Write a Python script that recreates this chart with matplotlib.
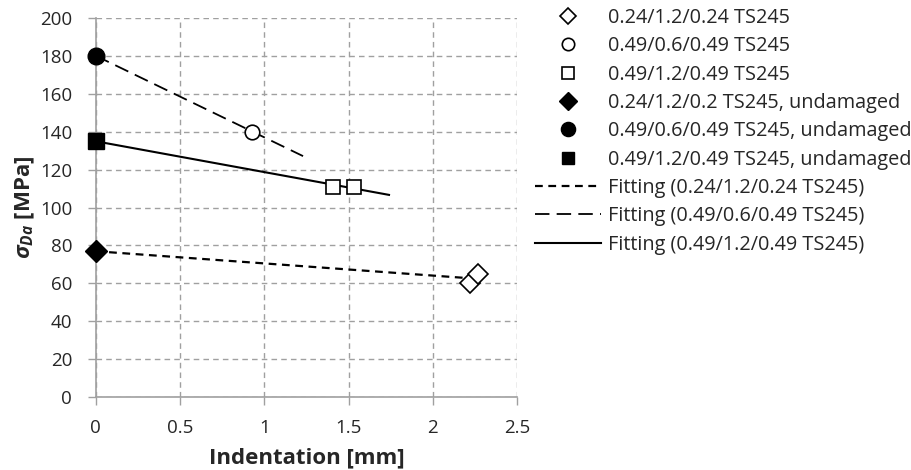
import numpy as np
import matplotlib
matplotlib.use("Agg")
import matplotlib.pyplot as plt

plt.rcParams['font.family'] = ['Open Sans', 'DejaVu Sans']
plt.rcParams['mathtext.fontset'] = 'custom'
plt.rcParams['mathtext.it'] = 'Open Sans:italic:bold'
plt.rcParams['mathtext.rm'] = 'Open Sans:bold'
plt.rcParams['mathtext.bf'] = 'Open Sans:bold'

# Data
diamond_x = [2.22, 2.27]
diamond_y = [60, 65]
circle_x = [0.93]
circle_y = [140]
square_x = [1.41, 1.53]
square_y = [111, 111]
undamaged_diamond = (0, 77)
undamaged_circle = (0, 180)
undamaged_square = (0, 135)
fit_end_diamond = 2.27
fit_end_circle = 1.23
fit_end_square = 1.74

labels = ["0.24/1.2/0.24 TS245", "0.49/0.6/0.49 TS245", "0.49/1.2/0.49 TS245",
          "0.24/1.2/0.2 TS245, undamaged", "0.49/0.6/0.49 TS245, undamaged",
          "0.49/1.2/0.49 TS245, undamaged",
          "Fitting (0.24/1.2/0.24 TS245)", "Fitting (0.49/0.6/0.49 TS245)",
          "Fitting (0.49/1.2/0.49 TS245)"]

fig = plt.figure(figsize=(9.12, 4.70), dpi=100)
ax = fig.add_axes([0.105, 0.155, 0.462, 0.807])

gray = '#a0a0a0'
txt = '#262626'
fs = 13.5

def fit(xs, ys, x0, x1):
    p = np.polyfit(xs, ys, 1)
    xx = np.array([x0, x1])
    return xx, np.polyval(p, xx)

h = []
h.append(ax.plot(diamond_x, diamond_y, ls='none', marker='D', ms=10, mfc='white', mec='black', mew=1.2, label=labels[0], zorder=5)[0])
h.append(ax.plot(circle_x, circle_y, ls='none', marker='o', ms=10.5, mfc='white', mec='black', mew=1.2, label=labels[1], zorder=5)[0])
h.append(ax.plot(square_x, square_y, ls='none', marker='s', ms=10.5, mfc='white', mec='black', mew=1.2, label=labels[2], zorder=5)[0])
h.append(ax.plot([undamaged_diamond[0]], [undamaged_diamond[1]], ls='none', marker='D', ms=11, color='black', label=labels[3], clip_on=False, zorder=5)[0])
h.append(ax.plot([undamaged_circle[0]], [undamaged_circle[1]], ls='none', marker='o', ms=12, color='black', label=labels[4], clip_on=False, zorder=5)[0])
h.append(ax.plot([undamaged_square[0]], [undamaged_square[1]], ls='none', marker='s', ms=11, color='black', label=labels[5], clip_on=False, zorder=5)[0])

fx, fy = fit([undamaged_diamond[0]] + diamond_x, [undamaged_diamond[1]] + diamond_y, 0, fit_end_diamond)
h.append(ax.plot(fx, fy, color='black', lw=1.6, ls=(0, (3.5, 2.5)), label=labels[6], zorder=4)[0])
fx, fy = fit([undamaged_circle[0]] + circle_x, [undamaged_circle[1]] + circle_y, 0, fit_end_circle)
h.append(ax.plot(fx, fy, color='black', lw=1.3, ls=(0, (8, 4)), label=labels[7], zorder=4)[0])
fx, fy = fit([undamaged_square[0]] + square_x, [undamaged_square[1]] + square_y, 0, fit_end_square)
h.append(ax.plot(fx, fy, color='black', lw=1.5, ls='-', label=labels[8], zorder=4)[0])

ax.set_xlim(0, 2.5)
ax.set_ylim(0, 200)
ax.set_xticks([0, 0.5, 1, 1.5, 2, 2.5])
ax.set_xticklabels(['0', '0.5', '1', '1.5', '2', '2.5'])
ax.set_yticks(range(0, 201, 20))
ax.grid(True, color=gray, ls=(0, (4, 3)), lw=1.0)
ax.set_axisbelow(True)
for s in ['top', 'right']:
    ax.spines[s].set_visible(False)
for s in ['left', 'bottom']:
    ax.spines[s].set_color(gray)
    ax.spines[s].set_linewidth(1.2)
ax.tick_params(axis='both', direction='out', length=6, color=gray, width=1.0,
               labelsize=fs, labelcolor=txt)
ax.tick_params(axis='y', pad=11)
ax.tick_params(axis='x', pad=10)

ax.set_xlabel('Indentation [mm]', fontsize=16, fontweight='bold', color=txt, labelpad=7)
ax.set_ylabel(r'$\sigma_{Da}$ [MPa]', fontsize=16, fontweight='bold', color=txt, labelpad=2)

leg = fig.legend(handles=h, loc='upper left', bbox_to_anchor=(0.578, 1.0), frameon=False,
                 fontsize=14.3, handlelength=3.3, handletextpad=0.35, labelspacing=0.42,
                 markerscale=0.85, borderaxespad=0)
for t in leg.get_texts():
    t.set_color(txt)

fig.savefig('out.png', dpi=100)
